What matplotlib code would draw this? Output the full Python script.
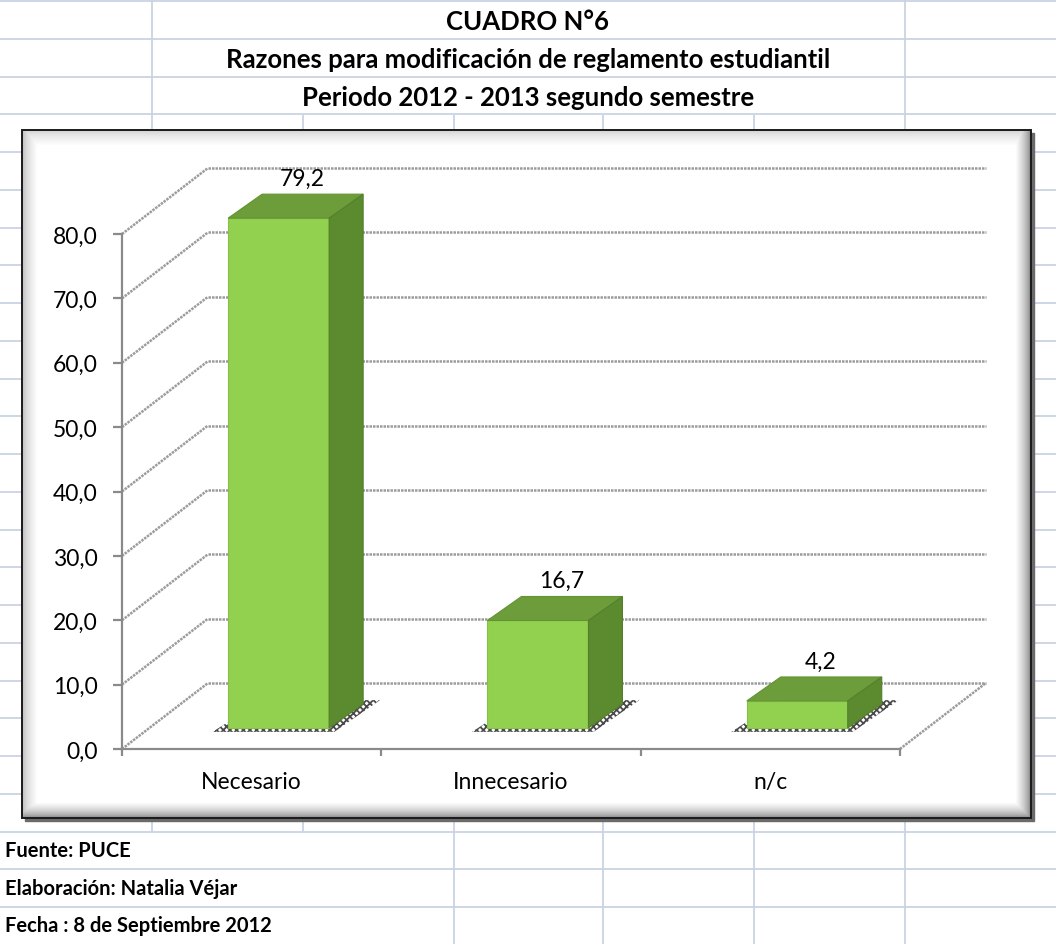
import numpy as np
import matplotlib
matplotlib.use("Agg")
import matplotlib.pyplot as plt
from matplotlib.patches import Polygon, Rectangle

plt.rcParams['font.family'] = ['Lato', 'DejaVu Sans']
plt.rcParams['hatch.linewidth'] = 1.3

# data
categories = ['Necesario', 'Innecesario', 'n/c']
values = [79.2, 16.7, 4.2]
value_labels = ['79,2', '16,7', '4,2']
yticks = [0, 10, 20, 30, 40, 50, 60, 70, 80]
ytick_labels = ['0,0', '10,0', '20,0', '30,0', '40,0', '50,0', '60,0', '70,0', '80,0']

title_lines = ['CUADRO N°6',
               'Razones para modificación de reglamento estudiantil',
               'Periodo 2012 - 2013 segundo semestre']
footer_lines = ['Fuente: PUCE',
                'Elaboración: Natalia Véjar',
                'Fecha : 8 de Septiembre 2012']

W_PX, H_PX = 1056, 945
fig = plt.figure(figsize=(W_PX / 100, H_PX / 100), dpi=100)
fig.patch.set_facecolor('white')

# ---- spreadsheet background (pixel coords) ----
bg = fig.add_axes([0, 0, 1, 1])
bg.set_xlim(0, W_PX)
bg.set_ylim(H_PX, 0)
bg.axis('off')

grid_c = '#c9d3e4'
row_h = 37.75
for k in range(26):
    bg.axhline(2 + k * row_h, color=grid_c, lw=1.3, zorder=0)
cols = [152, 303, 454, 603, 754, 905]
bg.vlines([152, 905], 0, 131, color=grid_c, lw=1.3, zorder=0)
bg.vlines([303, 454, 603, 754], 115.5, 131, color=grid_c, lw=1.3, zorder=0)
bg.vlines(cols, 819, 832, color=grid_c, lw=1.3, zorder=0)
bg.vlines([454, 603, 754, 905], 832, H_PX, color=grid_c, lw=1.3, zorder=0)

for i, t in enumerate(title_lines):
    bg.text(528, 22 + i * row_h, t, ha='center', va='center',
            fontsize=18.5, fontweight='bold', color='black')
for i, t in enumerate(footer_lines):
    bg.text(5, 851 + i * row_h, t, ha='left', va='center',
            fontsize=14.5, fontweight='bold', color='black')

# chart frame with bevel
fx0, fx1, fy0, fy1 = 22, 1031, 131, 819
fw, fh = fx1 - fx0, fy1 - fy0
xx = np.arange(fw)[None, :].astype(float)
yy = np.arange(fh)[:, None].astype(float)
bev = 15.0
shade = np.ones((fh, fw))
for d, dark in [(xx, 0.72), (yy, 0.80), (fw - 1 - xx, 0.48), (fh - 1 - yy, 0.50)]:
    shade = np.minimum(shade, dark + (1 - dark) * np.clip(d / bev, 0, 1) ** 0.6)
bg.add_patch(Rectangle((fx0 + 3, fy0 + 3), fw, fh, color='#6a6a6a', zorder=1))
bg.imshow(np.dstack([shade] * 3), extent=(fx0, fx1, fy1, fy0), origin='upper',
          zorder=2, aspect='auto', interpolation='bilinear')
bg.add_patch(Rectangle((fx0, fy0), fw, fh, fill=False, ec='#1a1a1a', lw=1.4, zorder=3))
bg.set_xlim(0, W_PX)
bg.set_ylim(H_PX, 0)

# ---- plot area ----
PX_X, PX_Y = 259.3, 6.4375          # pixels per category / per value unit
DX, DY = 86 / PX_X, 66 / PX_Y        # depth of the floor / back wall
OFF_X, OFF_Y = 27 / PX_X, 21 / PX_Y  # bar placement inside the depth
BW = 101 / PX_X
BDX, BDY = 34 / PX_X, 24 / PX_Y      # bar depth

n = len(categories)
xmax, ymax = n + DX, yticks[-1] + DY
ax = fig.add_axes([122 / W_PX, (H_PX - 750) / H_PX,
                   xmax * PX_X / W_PX, ymax * PX_Y / H_PX])
ax.set_facecolor('none')
ax.set_xlim(0, xmax)
ax.set_ylim(0, ymax)

gl = dict(color='#9c9c9c', lw=1.8, ls=(0, (1.0, 0.4)), zorder=1, clip_on=False)
for v in yticks:
    ax.plot([DX, n + DX], [v + DY, v + DY], **gl)
    ax.plot([0, DX], [v, v + DY], **gl)
ax.plot([n, n + DX], [0, DY], **gl)

x = np.arange(n) + 0.5 + OFF_X
ax.bar(x, values, width=BW, bottom=OFF_Y, color='#92d050',
       edgecolor='#86c146', lw=0.8, zorder=4)
for xi, v, lab in zip(x, values, value_labels):
    xl, xr = xi - BW / 2, xi + BW / 2
    top = OFF_Y + v
    shadow = Polygon([(xl - 0.06, OFF_Y - 0.6), (xr + 0.02, OFF_Y - 0.6),
                      (xr + BDX + 0.065, OFF_Y + BDY + 0.6), (xl + BDX, OFF_Y + BDY + 0.6)],
                     closed=True, fill=False, hatch='xxxxx', ec='#4a4a4a', lw=0, zorder=3)
    ax.add_patch(shadow)
    ax.add_patch(Polygon([(xl, top), (xr, top), (xr + BDX, top + BDY), (xl + BDX, top + BDY)],
                         closed=True, fc='#6c9d3a', ec='#649235', lw=0.8, zorder=4))
    ax.add_patch(Polygon([(xr, OFF_Y), (xr + BDX, OFF_Y + BDY), (xr + BDX, top + BDY), (xr, top)],
                         closed=True, fc='#5b8a2f', ec='#557f2c', lw=0.8, zorder=4))
    ax.annotate(lab, (xi + 0.09, top + BDY), xytext=(0, 4), textcoords='offset points',
                ha='center', va='bottom', fontsize=16.5, color='black', zorder=5)

for s in ['top', 'right']:
    ax.spines[s].set_visible(False)
ax.spines['left'].set_bounds(0, yticks[-1])
ax.spines['bottom'].set_bounds(0, n)
for s in ['left', 'bottom']:
    ax.spines[s].set_color('#8a8a8a')
    ax.spines[s].set_linewidth(1.6)
    ax.spines[s].set_zorder(2)

ax.set_yticks(yticks)
ax.set_yticklabels(ytick_labels)
ax.tick_params(axis='y', length=6.5, width=1.6, color='#8a8a8a', pad=11, labelsize=16.5)
ax.set_xticks(np.arange(n + 1))
ax.set_xticklabels([])
ax.set_xticks(np.arange(n) + 0.5, minor=True)
ax.set_xticklabels(categories, minor=True)
ax.tick_params(axis='x', which='major', length=5, width=1.6, color='#8a8a8a')
ax.tick_params(axis='x', which='minor', length=0, pad=16, labelsize=16.5)

fig.savefig('out.png', dpi=100)
